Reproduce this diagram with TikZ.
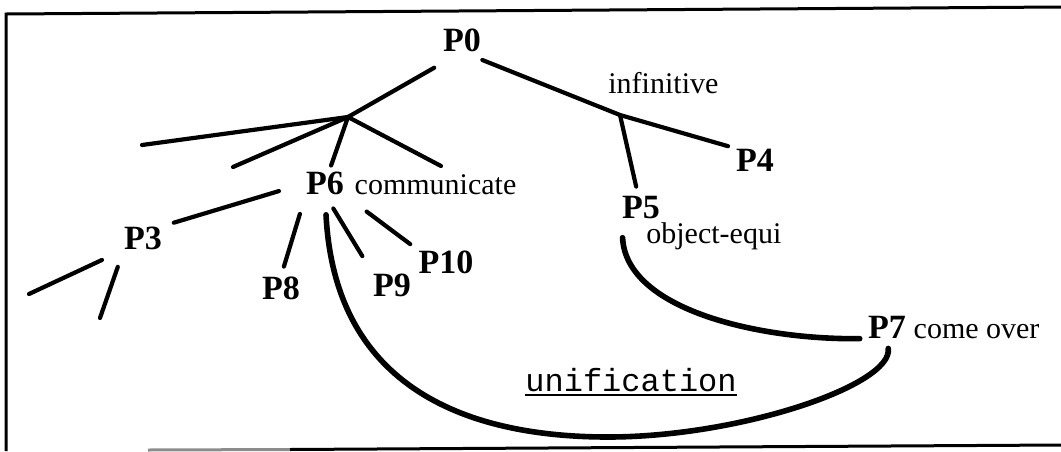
\documentclass[tikz,border=0pt]{standalone}
\usepackage{fontspec}
\setmainfont{Liberation Serif}
\setmonofont{Liberation Mono}
\usetikzlibrary{positioning}
\tikzset{
  pnode/.style={font=\fontsize{17}{20}\selectfont\bfseries, inner sep=0pt},
  gloss/.style={font=\fontsize{15}{18}\selectfont, inner sep=0pt},
  monolbl/.style={font=\fontsize{16}{19}\selectfont\ttfamily, inner sep=0pt},
  branch/.style={line width=2.1pt, line cap=round},
  bind/.style={line width=2.8pt, line cap=round},
  framel/.style={line width=1.5pt}
}
\begin{document}
\begin{tikzpicture}[x=0.5pt, y=-0.5pt]
\useasboundingbox (0,0) rectangle (1061,451);
% frame, open on the right
\draw[framel] (6,451) -- (6,14) -- (1061,7);
\draw[framel, black!45] (148,450) -- (290,449.5);
\draw[framel] (290,449.5) -- (1061,445);

% labels
\node[pnode] (p0) at (462,40) {P0};
\node[pnode] (p6) at (325,183) {P6};
\node[gloss, base right=5pt of p6] (comm) {communicate};
\node[pnode] (p3) at (143,238) {P3};
\node[pnode] (p8) at (281,288) {P8};
\node[pnode] (p9) at (392,285) {P9};
\node[pnode] (p10) at (446,262) {P10};
\node[gloss, anchor=base west] (infin) at (608,93) {infinitive};
\node[pnode] (p4) at (755,160) {P4};
\node[pnode] (p5) at (641,208) {P5};
\node[gloss, anchor=base west] (oequi) at (646,243) {object-equi};
\node[pnode] (p7) at (887,327) {P7};
\node[gloss, base right=3.5pt of p7] (cover) {come over};
\node[monolbl, anchor=base west] (unif) at (525,391) {unification};
\draw[line width=1pt] ([yshift=-1.5pt]unif.south west) -- ([yshift=-1.5pt]unif.south east);

% branching points and loose ends
\coordinate (j1) at (348,117);
\coordinate (j2) at (620,115);
\coordinate (fl1) at (142,145);
\coordinate (fl2) at (233,167);
\coordinate (fr1) at (441,166);
\coordinate (fp3a) at (29,294);
\coordinate (fp3b) at (100,318);
\coordinate (ubot) at (608,437);

% tree
\draw[branch, shorten >=16pt] (j1) -- (p0.south);
\draw[branch] (j1) -- (fl1);
\draw[branch] (j1) -- (fl2);
\draw[branch] (j1) -- (fr1);
\draw[branch, shorten >=3pt] (j1) -- (p6);
\draw[branch, shorten <=11pt, shorten >=4pt] (p0.south) -- (j2) -- (p4.north west);
\draw[branch, shorten >=5pt] (j2) -- (p5);
\draw[branch, shorten <=14pt, shorten >=6pt] (p6.west) -- (p3.north east);
\draw[branch, shorten <=10pt, shorten >=5pt] (p6.south west) -- (p8.north);
\draw[branch, shorten <=8pt, shorten >=10pt] (p6.south) -- (p9.north west);
\draw[branch, shorten <=14pt, shorten >=5pt] (p6.south east) -- (p10.north west);
\draw[branch, shorten <=12pt] (p3.south west) -- (fp3a);
\draw[branch, shorten <=9pt] (p3.south west) -- (fp3b);

% links to P7
\draw[bind, shorten <=9pt, shorten >=4pt] (p5.south west) .. controls (626,310) and (760,340) .. (p7.south west);
\draw[bind, shorten <=10pt, shorten >=5pt] (p6.south) .. controls (335,390) and (470,437) .. (ubot)
  .. controls (740,437) and (893,385) .. (p7.south);
\end{tikzpicture}
\end{document}
